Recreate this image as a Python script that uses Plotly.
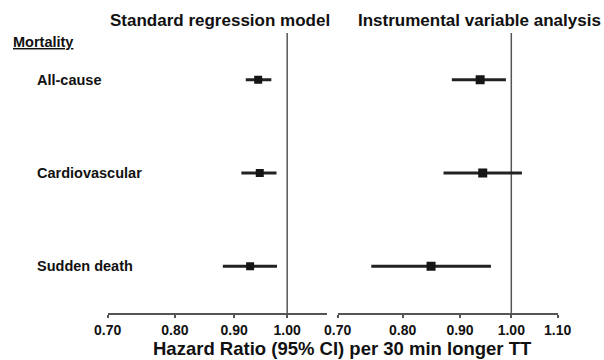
import plotly.graph_objects as go
import math

# Data
outcomes = ["All-cause", "Cardiovascular", "Sudden death"]
row_pos = [3, 2, 1]

std_est = [0.944, 0.947, 0.929]
std_lo = [0.921, 0.913, 0.880]
std_hi = [0.969, 0.979, 0.980]

iv_est = [0.938, 0.943, 0.848]
iv_lo = [0.885, 0.870, 0.750]
iv_hi = [0.989, 1.022, 0.959]

left_ticks = [0.7, 0.8, 0.9, 1.0]
left_ticktext = ["0.70", "0.80", "0.90", "1.00"]
right_ticks = [0.7, 0.8, 0.9, 1.0, 1.1]
right_ticktext = ["0.70", "0.80", "0.90", "1.00", "1.10"]

panel_titles = ["Standard regression model", "Instrumental variable analysis"]
x_title = "Hazard Ratio (95% CI) per 30 min longer TT"

W, H = 604, 360
FONT = "Liberation Sans, Arial, sans-serif"
TXT = "#111111"

fig = go.Figure()

# reference lines at HR = 1
fig.add_trace(go.Scatter(x=[1, 1], y=[0.5, 3.5], mode="lines",
                         line=dict(color="#555555", width=1.5),
                         xaxis="x", yaxis="y", showlegend=False, hoverinfo="skip"))
fig.add_trace(go.Scatter(x=[1, 1], y=[0.5, 3.5], mode="lines",
                         line=dict(color="#555555", width=1.5),
                         xaxis="x2", yaxis="y", showlegend=False, hoverinfo="skip"))

def add_panel(est, lo, hi, xa, msize):
    fig.add_trace(go.Scatter(
        x=est, y=row_pos, mode="markers",
        marker=dict(symbol="square", size=msize, color="#151515"),
        error_x=dict(type="data", symmetric=False,
                     array=[h - e for h, e in zip(hi, est)],
                     arrayminus=[e - l for e, l in zip(est, lo)],
                     width=0, thickness=3, color="#222222"),
        xaxis=xa, yaxis="y", showlegend=False))

add_panel(std_est, std_lo, std_hi, "x", 8)
add_panel(iv_est, iv_lo, iv_hi, "x2", 9)

axis_common = dict(type="log", showgrid=False, zeroline=False, showline=True,
                   linecolor="#555555", linewidth=1.5, ticks="outside", ticklen=3,
                   tickcolor="#555555", tickwidth=1.5,
                   tickfont=dict(family=FONT, size=14, color=TXT, weight="bold"),
                   automargin=False, fixedrange=True)

fig.update_layout(
    width=W, height=H,
    margin=dict(l=0, r=0, t=33, b=47),
    paper_bgcolor="white", plot_bgcolor="white",
    xaxis=dict(domain=[107.7 / W, 327.3 / W],
               range=[math.log10(0.7), math.log10(1.083)],
               tickvals=left_ticks, ticktext=left_ticktext, anchor="y", **axis_common),
    xaxis2=dict(domain=[337.7 / W, 557.7 / W],
                range=[math.log10(0.7), math.log10(1.1)],
                tickvals=right_ticks, ticktext=right_ticktext, anchor="y", **axis_common),
    yaxis=dict(range=[0.5, 3.5], visible=False, fixedrange=True),
)

def py(p):
    return (313 - p) / 280

ann = []
ann.append(dict(text=panel_titles[0], x=220 / W, y=py(20.7), xref="paper", yref="paper",
                xanchor="center", yanchor="middle", showarrow=False,
                font=dict(family=FONT, size=17, color=TXT, weight="bold")))
ann.append(dict(text=panel_titles[1], x=479.5 / W, y=py(20.7), xref="paper", yref="paper",
                xanchor="center", yanchor="middle", showarrow=False,
                font=dict(family=FONT, size=17, color=TXT, weight="bold")))
ann.append(dict(text="<u>Mortality</u>", x=10.7 / W, y=py(41.7), xref="paper", yref="paper",
                xanchor="left", yanchor="middle", showarrow=False,
                font=dict(family=FONT, size=14.5, color=TXT, weight="bold")))
for name, r in zip(outcomes, row_pos):
    ann.append(dict(text=name, x=35 / W, y=r, xref="paper", yref="y",
                    xanchor="left", yanchor="middle", showarrow=False,
                    font=dict(family=FONT, size=14.5, color=TXT, weight="bold")))
ann.append(dict(text=x_title, x=342 / W, y=py(348.5), xref="paper", yref="paper",
                xanchor="center", yanchor="middle", showarrow=False,
                font=dict(family=FONT, size=18.5, color=TXT, weight="bold")))
fig.update_layout(annotations=ann)

fig.write_html("out.html")
